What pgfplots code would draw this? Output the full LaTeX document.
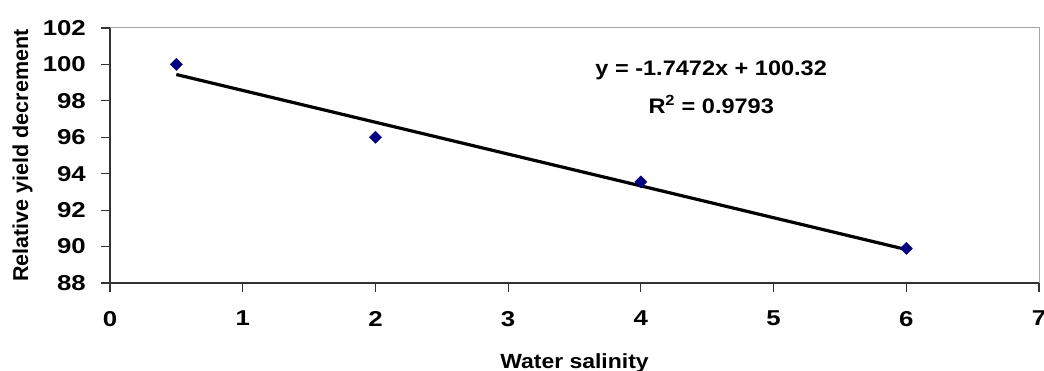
\documentclass[border=0pt]{standalone}
\usepackage{fontspec}
\setmainfont{Liberation Sans}[FakeStretch=1.12]
\newfontfamily\tkfont{Liberation Sans}[FakeStretch=1.2]
\newfontfamily\ylfont{Liberation Sans}
\usepackage{pgfplots}
\pgfplotsset{compat=1.18}
\definecolor{navy}{RGB}{0,0,128}
\begin{document}
\fontsize{21}{25}\selectfont
\begin{tikzpicture}
\begin{axis}[
  scale only axis, width=929pt, height=255pt,
  xmin=0, xmax=7, ymin=88, ymax=102,
  xtick={0,1,...,7}, ytick={88,90,...,102},
  axis x line*=bottom, axis y line*=left,
  axis line style={line width=1.3pt, black!80, -},
  tick style={line width=1.2pt, black!80},
  tick align=outside, major tick length=9pt,
  /pgf/number format/assume math mode=true,
  ticklabel style={font=\tkfont\fontsize{21.5}{25}\selectfont\bfseries},
  xticklabel style={yshift=-12pt},
  yticklabel style={xshift=-8pt},
  xlabel={\bfseries Water salinity},
  ylabel={\ylfont\bfseries Relative yield decrement},
  xlabel style={yshift=-13pt, font=\fontsize{20.5}{24}\selectfont},
  ylabel style={yshift=-4pt, font=\fontsize{21.5}{24}\selectfont},
  clip=false,
]
\draw[gray!70, line width=1pt] (rel axis cs:0,1) -- (rel axis cs:1,1) -- (rel axis cs:1,0);
\addplot[black, line width=3.2pt, no marks] coordinates {(0.5,99.446) (6,89.837)};
\addplot[only marks, mark=square*, mark size=4.3pt, mark options={rotate=45, fill=navy, draw=navy}] coordinates {
(0.5,100) (2,96) (4,93.55) (6,89.9)};
\node[font=\fontsize{21}{25}\selectfont\bfseries] at (axis cs:4.53,99.65) {y = -1.7472x + 100.32};
\node[font=\fontsize{21}{25}\selectfont\bfseries] at (axis cs:4.53,97.8) {R\textsuperscript{2} = 0.9793};
\end{axis}
\pgfresetboundingbox
\path (-110pt,-88pt) rectangle (934pt,283pt);
\end{tikzpicture}
\end{document}
